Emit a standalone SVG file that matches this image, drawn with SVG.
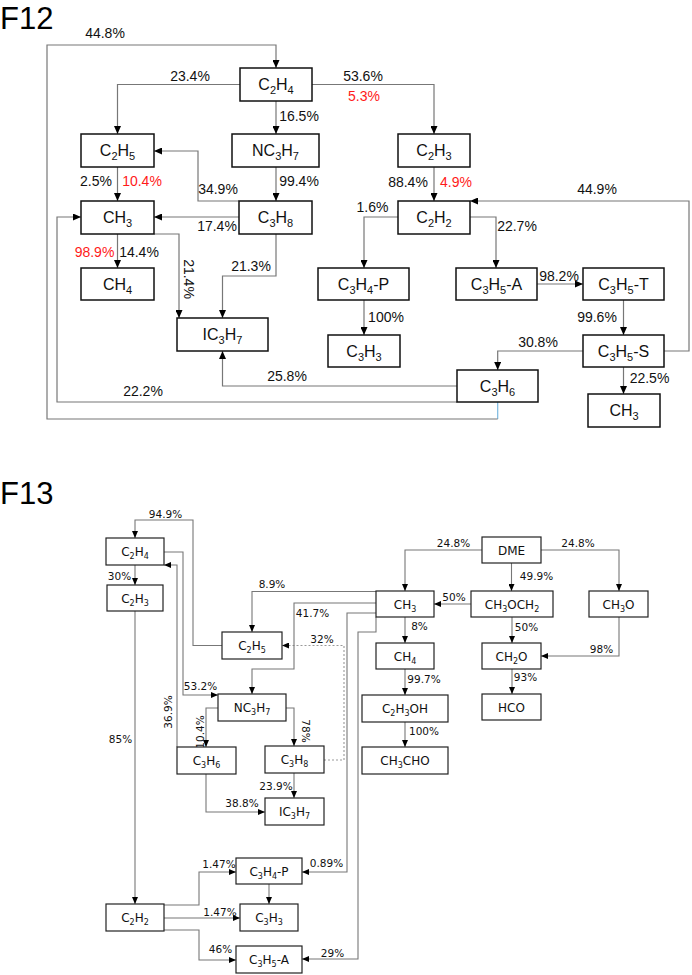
<svg xmlns="http://www.w3.org/2000/svg" width="692" height="975" viewBox="0 0 692 975">
<defs>
<style>
.bx{fill:#fff;stroke:#111;stroke-width:1.5}
.bx2{fill:#fff;stroke:#222;stroke-width:1.2}
.nt{font-family:"Liberation Sans",Arial,sans-serif;font-size:16px;text-anchor:middle;fill:#111}
.nt2{font-family:"DejaVu Sans",Verdana,sans-serif;font-size:12px;text-anchor:middle;fill:#111}
.lb{font-family:"Liberation Sans",Arial,sans-serif;font-size:14px;text-anchor:middle;fill:#111}
.lb2{font-family:"DejaVu Sans",Verdana,sans-serif;font-size:10.5px;text-anchor:middle;fill:#111}
.red{fill:#ff1a1a}
.ttl{font-family:"Liberation Sans",Arial,sans-serif;font-size:31px;fill:#000}
.c{fill:none;stroke:#777;stroke-width:1.2;marker-end:url(#a)}
.c2{fill:none;stroke:#777;stroke-width:1.1;marker-end:url(#a2)}
.dash{stroke:#999;stroke-dasharray:2,2}
.nm{marker-end:none}
</style>
<marker id="a" viewBox="0 0 8 7" refX="8" refY="3.5" markerWidth="8" markerHeight="7" markerUnits="userSpaceOnUse" orient="auto"><path d="M0,0L8,3.5L0,7z" fill="#000"/></marker>
<marker id="a2" viewBox="0 0 7 6" refX="7" refY="3" markerWidth="7" markerHeight="6" markerUnits="userSpaceOnUse" orient="auto"><path d="M0,0L7,3L0,6z" fill="#000"/></marker>
</defs>
<rect width="692" height="975" fill="#fff"/>
<text class="ttl" x="0" y="29">F12</text>
<text class="ttl" x="0" y="504">F13</text>

<g id="connectors-f12">
<path class="c nm" d="M497.7,402V419" style="stroke:#7ab8e0"/>
<path class="c" d="M497.7,419H47V45H276V68"/>
<path class="c" d="M240,84.5H117.5V134"/>
<path class="c" d="M276,100.5V134"/>
<path class="c" d="M312,84.5H434V134"/>
<path class="c" d="M117.5,167V201"/>
<path class="c" d="M276,167V201"/>
<path class="c" d="M239,201H198V151H154"/>
<path class="c" d="M239,217H154"/>
<path class="c" d="M117.5,234V268"/>
<path class="c" d="M154,234H179V318"/>
<path class="c" d="M276,234V276H222.5V318"/>
<path class="c" d="M457,386H222.5V351"/>
<path class="c" d="M457,402H57V217H81"/>
<path class="c" d="M434,167V201"/>
<path class="c" d="M664,351H689V201H470"/>
<path class="c" d="M398,217H364V268"/>
<path class="c" d="M470,217H496V268"/>
<path class="c" d="M537,284H583"/>
<path class="c" d="M364,300V335"/>
<path class="c" d="M623.5,300V335"/>
<path class="c" d="M583,351H497.7V370"/>
<path class="c" d="M623.5,367V394"/>
</g>

<g id="labels-f12">
<text class="lb" x="105" y="38">44.8%</text>
<text class="lb" x="190" y="81">23.4%</text>
<text class="lb" x="299" y="121">16.5%</text>
<text class="lb" x="363" y="81">53.6%</text>
<text class="lb red" x="364" y="101">5.3%</text>
<text class="lb" x="96" y="186">2.5%</text>
<text class="lb red" x="142" y="186">10.4%</text>
<text class="lb" x="299" y="186">99.4%</text>
<text class="lb" x="218" y="194">34.9%</text>
<text class="lb" x="217" y="231">17.4%</text>
<text class="lb red" x="94.5" y="257">98.9%</text>
<text class="lb" x="139" y="257">14.4%</text>
<text class="lb" transform="translate(184,279) rotate(90)">21.4%</text>
<text class="lb" x="251" y="271">21.3%</text>
<text class="lb" x="408" y="187">88.4%</text>
<text class="lb red" x="456" y="187">4.9%</text>
<text class="lb" x="597" y="194">44.9%</text>
<text class="lb" x="372.5" y="212">1.6%</text>
<text class="lb" x="517" y="231">22.7%</text>
<text class="lb" x="559" y="281">98.2%</text>
<text class="lb" x="386" y="322">100%</text>
<text class="lb" x="597" y="322">99.6%</text>
<text class="lb" x="538" y="347">30.8%</text>
<text class="lb" x="649.5" y="383">22.5%</text>
<text class="lb" x="287" y="381">25.8%</text>
<text class="lb" x="143" y="396">22.2%</text>
</g>

<g id="f12-C2H4"><rect class="bx" x="240" y="68" width="72" height="33"/><text class="nt" x="276" y="90">C<tspan font-size="11" dy="4">2</tspan><tspan dy="-4">H</tspan><tspan font-size="11" dy="4">4</tspan></text></g>
<g id="f12-C2H5"><rect class="bx" x="81" y="134" width="73" height="33"/><text class="nt" x="117.5" y="156">C<tspan font-size="11" dy="4">2</tspan><tspan dy="-4">H</tspan><tspan font-size="11" dy="4">5</tspan></text></g>
<g id="f12-NC3H7"><rect class="bx" x="232" y="134" width="87" height="33"/><text class="nt" x="275.5" y="156">NC<tspan font-size="11" dy="4">3</tspan><tspan dy="-4">H</tspan><tspan font-size="11" dy="4">7</tspan></text></g>
<g id="f12-C2H3"><rect class="bx" x="398" y="134" width="72" height="33"/><text class="nt" x="434" y="156">C<tspan font-size="11" dy="4">2</tspan><tspan dy="-4">H</tspan><tspan font-size="11" dy="4">3</tspan></text></g>
<g id="f12-CH3"><rect class="bx" x="81" y="201" width="73" height="33"/><text class="nt" x="117.5" y="223">CH<tspan font-size="11" dy="4">3</tspan></text></g>
<g id="f12-C3H8"><rect class="bx" x="239" y="201" width="73" height="33"/><text class="nt" x="275.5" y="223">C<tspan font-size="11" dy="4">3</tspan><tspan dy="-4">H</tspan><tspan font-size="11" dy="4">8</tspan></text></g>
<g id="f12-C2H2"><rect class="bx" x="398" y="201" width="72" height="33"/><text class="nt" x="434" y="223">C<tspan font-size="11" dy="4">2</tspan><tspan dy="-4">H</tspan><tspan font-size="11" dy="4">2</tspan></text></g>
<g id="f12-CH4"><rect class="bx" x="81" y="268" width="73" height="32"/><text class="nt" x="117.5" y="290">CH<tspan font-size="11" dy="4">4</tspan></text></g>
<g id="f12-C3H4-P"><rect class="bx" x="318" y="268" width="91" height="32"/><text class="nt" x="363.5" y="290">C<tspan font-size="11" dy="4">3</tspan><tspan dy="-4">H</tspan><tspan font-size="11" dy="4">4</tspan><tspan dy="-4">-P</tspan></text></g>
<g id="f12-C3H5-A"><rect class="bx" x="456" y="268" width="81" height="32"/><text class="nt" x="496.5" y="290">C<tspan font-size="11" dy="4">3</tspan><tspan dy="-4">H</tspan><tspan font-size="11" dy="4">5</tspan><tspan dy="-4">-A</tspan></text></g>
<g id="f12-C3H5-T"><rect class="bx" x="583" y="268" width="81" height="32"/><text class="nt" x="623.5" y="290">C<tspan font-size="11" dy="4">3</tspan><tspan dy="-4">H</tspan><tspan font-size="11" dy="4">5</tspan><tspan dy="-4">-T</tspan></text></g>
<g id="f12-IC3H7"><rect class="bx" x="177" y="318" width="91" height="33"/><text class="nt" x="222.5" y="340">IC<tspan font-size="11" dy="4">3</tspan><tspan dy="-4">H</tspan><tspan font-size="11" dy="4">7</tspan></text></g>
<g id="f12-C3H3"><rect class="bx" x="328" y="335" width="72" height="32"/><text class="nt" x="364" y="357">C<tspan font-size="11" dy="4">3</tspan><tspan dy="-4">H</tspan><tspan font-size="11" dy="4">3</tspan></text></g>
<g id="f12-C3H5-S"><rect class="bx" x="583" y="335" width="81" height="32"/><text class="nt" x="623.5" y="357">C<tspan font-size="11" dy="4">3</tspan><tspan dy="-4">H</tspan><tspan font-size="11" dy="4">5</tspan><tspan dy="-4">-S</tspan></text></g>
<g id="f12-C3H6"><rect class="bx" x="457" y="370" width="81" height="32"/><text class="nt" x="497.5" y="392">C<tspan font-size="11" dy="4">3</tspan><tspan dy="-4">H</tspan><tspan font-size="11" dy="4">6</tspan></text></g>
<g id="f12-CH3-b"><rect class="bx" x="588" y="394" width="72" height="33"/><text class="nt" x="624" y="416">CH<tspan font-size="11" dy="4">3</tspan></text></g>

<g id="connectors-f13">
<path class="c2" d="M222,645.5H193V520H135V538"/>
<path class="c2" d="M164,552H183V695H218"/>
<path class="c2" d="M177,747V565H164"/>
<path class="c2" d="M218,708H206V747"/>
<path class="c2" d="M286,708H294V746"/>
<path class="c2" d="M294,773V798"/>
<path class="c2" d="M206,774V812H265"/>
<path class="c2 dash" d="M324,760H344V645.5H282"/>
<path class="c2" d="M135,565V585"/>
<path class="c2" d="M135,611V904"/>
<path class="c2" d="M482,550H405V591"/>
<path class="c2" d="M511.5,563V591"/>
<path class="c2" d="M541,550H619V591"/>
<path class="c2" d="M471,604H434"/>
<path class="c2" d="M512,617V643"/>
<path class="c2" d="M619,617V656H541"/>
<path class="c2" d="M512,669V694"/>
<path class="c2" d="M405,617V643"/>
<path class="c2" d="M405,669V695"/>
<path class="c2" d="M405,722V747"/>
<path class="c2" d="M376,591.5H252V632"/>
<path class="c2" d="M376,603H294V669H252V694"/>
<path class="c2" d="M376,613H347V872H302"/>
<path class="c2" d="M376,617V632H358V959H302"/>
<path class="c2" d="M164,905H199V872H236"/>
<path class="c2" d="M164,918H240"/>
<path class="c2" d="M164,930H199V960H236"/>
<path class="c2" d="M269,884V904"/>
</g>

<g id="labels-f13">
<text class="lb2" x="165.5" y="518">94.9%</text>
<text class="lb2" x="119.5" y="580">30%</text>
<text class="lb2" x="120.5" y="743">85%</text>
<text class="lb2" x="272" y="588">8.9%</text>
<text class="lb2" x="312.5" y="617">41.7%</text>
<text class="lb2" x="322" y="643">32%</text>
<text class="lb2" x="200.5" y="690">53.2%</text>
<text class="lb2" transform="translate(172,712) rotate(-90)">36.9%</text>
<text class="lb2" transform="translate(204,732) rotate(-90)">10.4%</text>
<text class="lb2" transform="translate(302,731) rotate(90)">78%</text>
<text class="lb2" x="276" y="790">23.9%</text>
<text class="lb2" x="242" y="807">38.8%</text>
<text class="lb2" x="453.5" y="547">24.8%</text>
<text class="lb2" x="536.5" y="580">49.9%</text>
<text class="lb2" x="578" y="547">24.8%</text>
<text class="lb2" x="454" y="601">50%</text>
<text class="lb2" x="419.5" y="630">8%</text>
<text class="lb2" x="526.5" y="631">50%</text>
<text class="lb2" x="601.5" y="653">98%</text>
<text class="lb2" x="424" y="683">99.7%</text>
<text class="lb2" x="525.5" y="681">93%</text>
<text class="lb2" x="424" y="735">100%</text>
<text class="lb2" x="219" y="868">1.47%</text>
<text class="lb2" x="326.5" y="867">0.89%</text>
<text class="lb2" x="220" y="916">1.47%</text>
<text class="lb2" x="220.5" y="953">46%</text>
<text class="lb2" x="332.5" y="957">29%</text>
</g>

<g id="f13-C2H4"><rect class="bx2" x="106" y="538" width="58" height="27"/><text class="nt2" x="135" y="556">C<tspan font-size="8" dy="3">2</tspan><tspan dy="-3">H</tspan><tspan font-size="8" dy="3">4</tspan></text></g>
<g id="f13-C2H3"><rect class="bx2" x="107" y="585" width="56" height="26"/><text class="nt2" x="135" y="602.5">C<tspan font-size="8" dy="3">2</tspan><tspan dy="-3">H</tspan><tspan font-size="8" dy="3">3</tspan></text></g>
<g id="f13-C2H5"><rect class="bx2" x="222" y="632" width="60" height="27"/><text class="nt2" x="252" y="650">C<tspan font-size="8" dy="3">2</tspan><tspan dy="-3">H</tspan><tspan font-size="8" dy="3">5</tspan></text></g>
<g id="f13-CH3"><rect class="bx2" x="376" y="591" width="58" height="26"/><text class="nt2" x="405" y="608.5">CH<tspan font-size="8" dy="3">3</tspan></text></g>
<g id="f13-CH4"><rect class="bx2" x="376" y="643" width="58" height="26"/><text class="nt2" x="405" y="660.5">CH<tspan font-size="8" dy="3">4</tspan></text></g>
<g id="f13-C2H3OH"><rect class="bx2" x="362" y="695" width="86" height="27"/><text class="nt2" x="405" y="713">C<tspan font-size="8" dy="3">2</tspan><tspan dy="-3">H</tspan><tspan font-size="8" dy="3">3</tspan><tspan dy="-3">OH</tspan></text></g>
<g id="f13-CH3CHO"><rect class="bx2" x="362" y="747" width="86" height="27"/><text class="nt2" x="405" y="765">CH<tspan font-size="8" dy="3">3</tspan><tspan dy="-3">CHO</tspan></text></g>
<g id="f13-DME"><rect class="bx2" x="482" y="537" width="59" height="26"/><text class="nt2" x="511.5" y="554.5">DME</text></g>
<g id="f13-CH3OCH2"><rect class="bx2" x="471" y="591" width="82" height="26"/><text class="nt2" x="512" y="608.5">CH<tspan font-size="8" dy="3">3</tspan><tspan dy="-3">OCH</tspan><tspan font-size="8" dy="3">2</tspan></text></g>
<g id="f13-CH3O"><rect class="bx2" x="589" y="591" width="59" height="26"/><text class="nt2" x="618.5" y="608.5">CH<tspan font-size="8" dy="3">3</tspan><tspan dy="-3">O</tspan></text></g>
<g id="f13-CH2O"><rect class="bx2" x="482" y="643" width="59" height="26"/><text class="nt2" x="511.5" y="660.5">CH<tspan font-size="8" dy="3">2</tspan><tspan dy="-3">O</tspan></text></g>
<g id="f13-HCO"><rect class="bx2" x="482" y="694" width="59" height="26"/><text class="nt2" x="511.5" y="711.5">HCO</text></g>
<g id="f13-NC3H7"><rect class="bx2" x="218" y="694" width="68" height="27"/><text class="nt2" x="252" y="712">NC<tspan font-size="8" dy="3">3</tspan><tspan dy="-3">H</tspan><tspan font-size="8" dy="3">7</tspan></text></g>
<g id="f13-C3H6"><rect class="bx2" x="177" y="747" width="59" height="27"/><text class="nt2" x="206.5" y="765">C<tspan font-size="8" dy="3">3</tspan><tspan dy="-3">H</tspan><tspan font-size="8" dy="3">6</tspan></text></g>
<g id="f13-C3H8"><rect class="bx2" x="265" y="746" width="59" height="27"/><text class="nt2" x="294.5" y="764">C<tspan font-size="8" dy="3">3</tspan><tspan dy="-3">H</tspan><tspan font-size="8" dy="3">8</tspan></text></g>
<g id="f13-IC3H7"><rect class="bx2" x="265" y="798" width="59" height="27"/><text class="nt2" x="294.5" y="816">IC<tspan font-size="8" dy="3">3</tspan><tspan dy="-3">H</tspan><tspan font-size="8" dy="3">7</tspan></text></g>
<g id="f13-C3H4-P"><rect class="bx2" x="236" y="858" width="66" height="26"/><text class="nt2" x="269" y="875.5">C<tspan font-size="8" dy="3">3</tspan><tspan dy="-3">H</tspan><tspan font-size="8" dy="3">4</tspan><tspan dy="-3">-P</tspan></text></g>
<g id="f13-C2H2"><rect class="bx2" x="106" y="904" width="58" height="27"/><text class="nt2" x="135" y="922">C<tspan font-size="8" dy="3">2</tspan><tspan dy="-3">H</tspan><tspan font-size="8" dy="3">2</tspan></text></g>
<g id="f13-C3H3"><rect class="bx2" x="240" y="904" width="58" height="27"/><text class="nt2" x="269" y="922">C<tspan font-size="8" dy="3">3</tspan><tspan dy="-3">H</tspan><tspan font-size="8" dy="3">3</tspan></text></g>
<g id="f13-C3H5-A"><rect class="bx2" x="236" y="946" width="66" height="27"/><text class="nt2" x="269" y="964">C<tspan font-size="8" dy="3">3</tspan><tspan dy="-3">H</tspan><tspan font-size="8" dy="3">5</tspan><tspan dy="-3">-A</tspan></text></g>
</svg>
